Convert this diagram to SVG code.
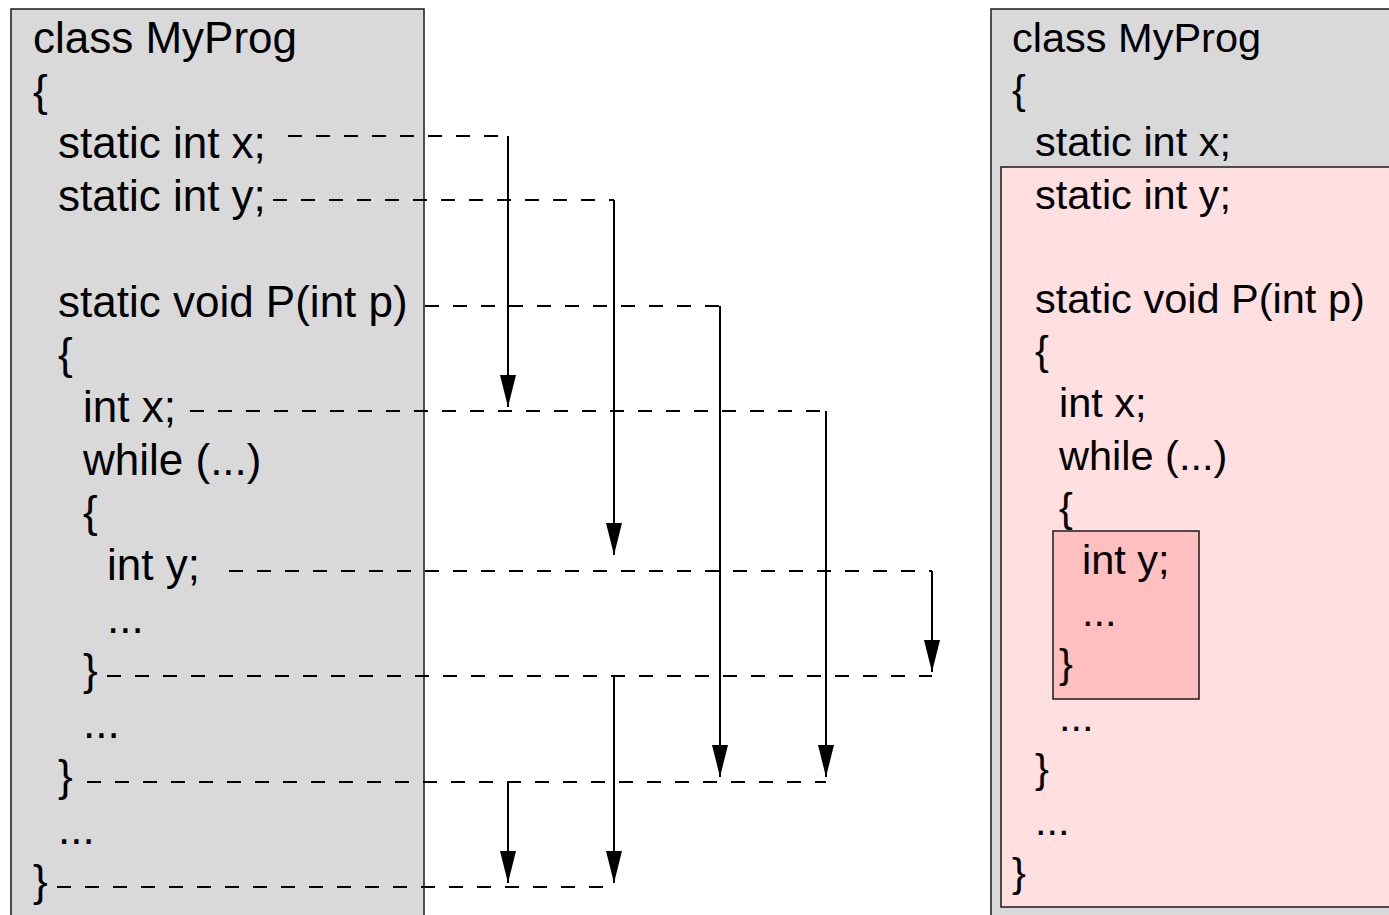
<svg xmlns="http://www.w3.org/2000/svg" width="1389" height="915" viewBox="0 0 1389 915">
<style>
.t{font-family:"Liberation Sans",Arial,sans-serif;font-size:44px;fill:#000}
.r{font-family:"Liberation Sans",Arial,sans-serif;font-size:41.5px;fill:#000}
.box{stroke:#1a1a1a;stroke-width:1.5}
.d{stroke:#000;stroke-width:1.8;stroke-dasharray:14 14;fill:none}
.v{stroke:#000;stroke-width:2;fill:none;marker-end:url(#ah)}
</style>
<defs>
<marker id="ah" viewBox="0 0 32 16" refX="32" refY="8" markerWidth="32" markerHeight="16" markerUnits="userSpaceOnUse" orient="auto">
<path d="M0,0 L32,8 L0,16 Z" fill="#000"/>
</marker>
</defs>
<rect width="1389" height="915" fill="#fff"/>
<g id="left-program">
<rect class="box" x="11" y="9" width="413" height="920" fill="#d9d9d9"/>
<text class="t" x="33" y="53">class MyProg</text>
<text class="t" x="33" y="105.7">{</text>
<text class="t" x="58" y="158.4">static int x;</text>
<text class="t" x="58" y="211.1">static int y;</text>
<text class="t" x="58" y="316.5">static void P(int p)</text>
<text class="t" x="58" y="369.2">{</text>
<text class="t" x="83" y="421.9">int x;</text>
<text class="t" x="83" y="474.6">while (...)</text>
<text class="t" x="83" y="527.3">{</text>
<text class="t" x="107" y="580">int y;</text>
<text class="t" x="107" y="632.7">...</text>
<text class="t" x="83" y="685.4">}</text>
<text class="t" x="83" y="738.1">...</text>
<text class="t" x="58" y="790.8">}</text>
<text class="t" x="58" y="843.5">...</text>
<text class="t" x="33" y="896.2">}</text>
</g>
<g id="right-program">
<rect class="box" x="991" y="9" width="420" height="920" fill="#d9d9d9"/>
<rect class="box" x="1001" y="167" width="410" height="740" fill="#ffdfdf"/>
<rect class="box" x="1053" y="531" width="146" height="168" fill="#ffbfbf"/>
<text class="r" x="1012" y="52">class MyProg</text>
<text class="r" x="1012" y="104.2">{</text>
<text class="r" x="1035" y="156.4">static int x;</text>
<text class="r" x="1035" y="208.6">static int y;</text>
<text class="r" x="1035" y="313">static void P(int p)</text>
<text class="r" x="1035" y="365.2">{</text>
<text class="r" x="1059" y="417.4">int x;</text>
<text class="r" x="1059" y="469.6">while (...)</text>
<text class="r" x="1059" y="521.8">{</text>
<text class="r" x="1082" y="574">int y;</text>
<text class="r" x="1082" y="626.2">...</text>
<text class="r" x="1059" y="678.4">}</text>
<text class="r" x="1059" y="730.6">...</text>
<text class="r" x="1035" y="782.8">}</text>
<text class="r" x="1035" y="835">...</text>
<text class="r" x="1012" y="887.2">}</text>
</g>
<g id="connectors">
<path class="d" d="M288,136 H508"/>
<path class="d" d="M273,200 H614"/>
<path class="d" d="M425,306 H720"/>
<path class="d" d="M190,411 H826"/>
<path class="d" d="M229,571 H932"/>
<path class="d" d="M107,676 H932"/>
<path class="d" d="M87,782 H826"/>
<path class="d" d="M57,887 H614"/>
<path class="v" d="M508,136 V407"/>
<path class="v" d="M614,200 V555"/>
<path class="v" d="M720,306 V777"/>
<path class="v" d="M826,411 V777"/>
<path class="v" d="M932,571 V672"/>
<path class="v" d="M614,676 V883"/>
<path class="v" d="M508,782 V883"/>
</g>
</svg>
